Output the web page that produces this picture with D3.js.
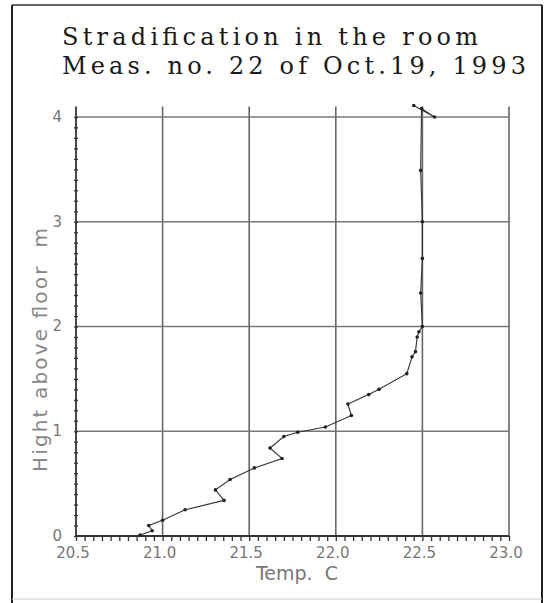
<!DOCTYPE html>
<html>
<head>
<meta charset="utf-8">
<script src="https://cdn.jsdelivr.net/npm/d3@7"></script>
<style>
  html, body { margin: 0; padding: 0; background: #fff; }
  svg { display: block; }
</style>
</head>
<body>
<svg id="chart" width="547" height="603"></svg>
<script>
// measured profile, in measurement order
const temps = [20.87, 20.94, 20.92, 21.00, 21.13, 21.355, 21.305, 21.39, 21.53, 21.69,
    21.62, 21.70, 21.78, 21.94, 22.09, 22.07, 22.19, 22.25, 22.41, 22.44,
    22.46, 22.47, 22.48, 22.50, 22.49, 22.50, 22.50, 22.49, 22.495, 22.57, 22.45];
const heights = [0.01, 0.05, 0.10, 0.15, 0.25, 0.34, 0.44, 0.54, 0.65, 0.74,
    0.84, 0.95, 0.99, 1.04, 1.15, 1.26, 1.35, 1.40, 1.55, 1.71,
    1.76, 1.90, 1.95, 2.00, 2.32, 2.65, 3.00, 3.49, 4.08, 4.00, 4.11];
const xTicks = [20.5, 21.0, 21.5, 22.0, 22.5, 23.0];
const yTicks = [0, 1, 2, 3, 4];
const titleLines = ["Stradification in the room", "Meas. no. 22 of Oct.19, 1993"];

const svg = d3.select("#chart");

const x = d3.scaleLinear().domain([20.5, 23.0]).range([76, 509]);
const y = d3.scaleLinear().domain([0, 4.1]).range([536, 106.5]);

// outer frame
svg.append("line").attr("x1", 12).attr("y1", 5).attr("x2", 542).attr("y2", 5)
    .attr("stroke", "#333").attr("stroke-width", 1.5);
svg.append("line").attr("x1", 12).attr("y1", 5).attr("x2", 12).attr("y2", 603)
    .attr("stroke", "#222").attr("stroke-width", 2);
svg.append("line").attr("x1", 542).attr("y1", 5).attr("x2", 542).attr("y2", 603)
    .attr("stroke", "#222").attr("stroke-width", 2);
svg.append("line").attr("x1", 12).attr("y1", 599).attr("x2", 542).attr("y2", 599)
    .attr("stroke", "#ccc").attr("stroke-width", 1);

// title
svg.selectAll(".title")
    .data(titleLines)
    .enter()
    .append("text")
    .attr("class", "title")
    .attr("x", 62)
    .attr("y", (d, i) => 45 + i * 29)
    .attr("textLength", (d, i) => i === 0 ? 416 : 464)
    .attr("lengthAdjust", "spacing")
    .attr("font-family", "DejaVu Serif")
    .attr("font-size", 24)
    .attr("fill", "#1a1a1a")
    .text(d => d);

// grid
svg.selectAll(".vgrid")
    .data(xTicks.slice(1))
    .enter()
    .append("line")
    .attr("x1", d => x(d)).attr("x2", d => x(d))
    .attr("y1", y(4.1)).attr("y2", y(0))
    .attr("stroke", "#666").attr("stroke-width", 1.6);

svg.selectAll(".hgrid")
    .data(yTicks.slice(1))
    .enter()
    .append("line")
    .attr("x1", x(20.5)).attr("x2", x(23.0))
    .attr("y1", d => y(d)).attr("y2", d => y(d))
    .attr("stroke", "#777").attr("stroke-width", 1.6);

// axes
const yAxis = d3.axisLeft(y).tickValues(d3.range(0, 4.05, 0.1)).tickSize(4).tickFormat("");
svg.append("g")
    .attr("transform", `translate(${x(20.5) + 2}, 0)`)
    .call(yAxis)
    .call(g => g.select(".domain").remove())
    .call(g => g.selectAll("line").attr("stroke", "#333").attr("stroke-width", 1.3));

svg.append("line")
    .attr("x1", x(20.5)).attr("x2", x(20.5))
    .attr("y1", y(4.1)).attr("y2", y(0))
    .attr("stroke", "#333").attr("stroke-width", 1.8);

const xAxis = d3.axisBottom(x).tickValues(d3.range(20.5, 23.01, 0.05)).tickSize(5).tickFormat("");
svg.append("g")
    .attr("transform", `translate(0, ${y(0)})`)
    .call(xAxis)
    .call(g => g.select(".domain").remove())
    .call(g => g.selectAll("line").attr("stroke", "#333").attr("stroke-width", 1.3));

svg.append("line")
    .attr("x1", x(20.5)).attr("x2", x(23.0))
    .attr("y1", y(0)).attr("y2", y(0))
    .attr("stroke", "#333").attr("stroke-width", 1.8);

// tick labels
svg.selectAll(".xlab")
    .data(xTicks)
    .enter()
    .append("text")
    .attr("x", d => x(d) - 3)
    .attr("y", 558)
    .attr("text-anchor", "middle")
    .attr("font-family", "DejaVu Sans")
    .attr("font-size", 15)
    .attr("fill", "#777")
    .text(d => d.toFixed(1));

svg.selectAll(".ylab")
    .data(yTicks)
    .enter()
    .append("text")
    .attr("x", 62)
    .attr("y", d => y(d) + 5)
    .attr("text-anchor", "end")
    .attr("font-family", "DejaVu Sans")
    .attr("font-size", 15)
    .attr("fill", "#777")
    .text(d => d);

// axis titles
svg.append("text")
    .attr("x", 297)
    .attr("y", 580)
    .attr("text-anchor", "middle")
    .attr("font-family", "DejaVu Sans")
    .attr("font-size", 19)
    .attr("fill", "#777")
    .style("white-space", "pre")
    .text("Temp.  C");

svg.append("text")
    .attr("transform", "translate(47, 350) rotate(-90)")
    .attr("text-anchor", "middle")
    .attr("textLength", 244)
    .attr("lengthAdjust", "spacing")
    .attr("font-family", "DejaVu Sans")
    .attr("font-size", 20)
    .attr("fill", "#888")
    .style("white-space", "pre")
    .text("Hight above floor  m");

// profile
const points = temps.map((t, i) => [t, heights[i]]);
const line = d3.line().x(d => x(d[0])).y(d => y(d[1]));

svg.append("path")
    .datum(points)
    .attr("d", line)
    .attr("fill", "none")
    .attr("stroke", "#333")
    .attr("stroke-width", 1.1);

svg.selectAll(".dot")
    .data(points)
    .enter()
    .append("circle")
    .attr("cx", d => x(d[0]))
    .attr("cy", d => y(d[1]))
    .attr("r", 1.8)
    .attr("fill", "#222");
</script>
</body>
</html>
